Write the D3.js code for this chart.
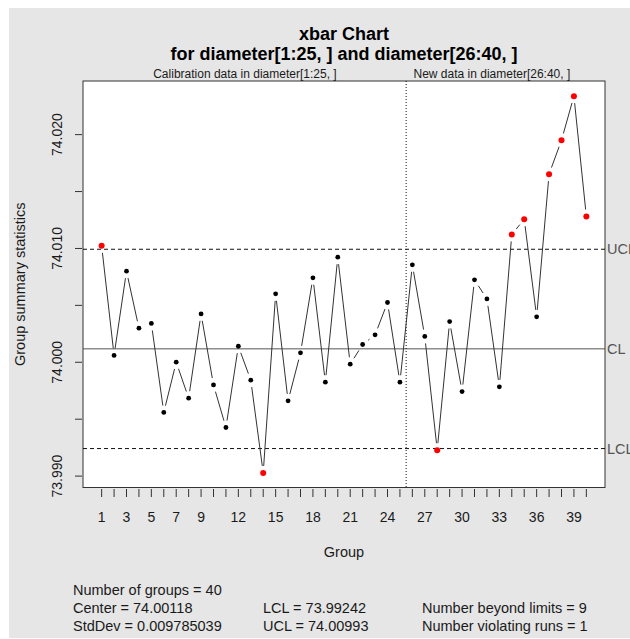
<!DOCTYPE html>
<head>
    <meta charset="utf-8">
    <script src="https://d3js.org/d3.v7.min.js"></script>
    <style>
        body { margin: 0; background: #fff; }
        text { font-family: "Liberation Sans", Arial, sans-serif; fill: #1a1a1a; }
        .tick-lab { font-size: 14px; }
        .lim-lab { font-size: 14.5px; fill: #555; }
        .stats { font-size: 14.5px; }
    </style>
</head>
<body>
    <div id="chart-container"></div>
</body>
<script>
    // group means (1:25 calibration, 26:40 new data)
    var groups = d3.range(1, 41)
    var means = [
        74.01023, 74.00060, 74.00800, 74.00300, 74.00341, 73.99559, 74.00001, 73.99685,
        74.00425, 73.99801, 73.99427, 74.00141, 73.99843, 73.99028, 74.00601, 73.99661,
        74.00083, 74.00742, 73.99825, 74.00923, 73.99983, 74.00156, 74.00241, 74.00525,
        73.99825, 74.00856, 74.00227, 73.99228, 74.00358, 73.99743, 74.00724, 74.00557,
        73.99784, 74.01123, 74.01257, 74.00399, 74.01653, 74.01951, 74.02338, 74.01281
    ]
    var center = 74.00118
    var lcl = 73.99242
    var ucl = 74.00993
    var calibEnd = 25

    var yTicks = [73.990, 73.995, 74.000, 74.005, 74.010, 74.015, 74.020]
    var yLabels = [73.990, 74.000, 74.010, 74.020]
    var xLabels = [1, 3, 5, 7, 9, 12, 15, 18, 21, 24, 27, 30, 33, 36, 39]

    var statsLines = [
        ["Number of groups = 40", "", ""],
        ["Center = 74.00118", "LCL = 73.99242", "Number beyond limits = 9"],
        ["StdDev = 0.009785039", "UCL = 74.00993", "Number violating runs = 1"]
    ]

    var W = 630, H = 639
    var box = {left: 83, top: 81, right: 605, bottom: 487.5}

    var svg = d3.select("#chart-container").append("svg")
        .attr("width", W)
        .attr("height", H)

    // grey device background
    svg.append("rect")
        .attr("x", 9).attr("y", 8)
        .attr("width", W - 9).attr("height", 630)
        .attr("fill", "#e6e6e6")

    var x = d3.scaleLinear()
        .domain([-0.5, 41.5])
        .range([box.left, box.right])

    var y = d3.scaleLinear()
        .domain([73.99 - (487.5 - 476.1) / 11382, 73.99 + (476.1 - 81) / 11382])
        .range([box.bottom, box.top])

    svg.append("rect")
        .attr("x", box.left).attr("y", box.top)
        .attr("width", box.right - box.left).attr("height", box.bottom - box.top)
        .attr("fill", "#fff")
        .attr("stroke", "#333")

    // titles
    svg.append("text")
        .attr("x", 344).attr("y", 40)
        .attr("text-anchor", "middle")
        .style("font-size", "18px").style("font-weight", "bold").style("fill", "#000")
        .text("xbar Chart")
    svg.append("text")
        .attr("x", 344).attr("y", 60)
        .attr("text-anchor", "middle")
        .style("font-size", "18px").style("font-weight", "bold").style("fill", "#000")
        .text("for diameter[1:25, ] and diameter[26:40, ]")

    svg.append("text")
        .attr("x", x(12.53)).attr("y", 77.5)
        .attr("text-anchor", "middle")
        .style("font-size", "12px")
        .text("Calibration data in diameter[1:25, ]")
    svg.append("text")
        .attr("x", x(32.4)).attr("y", 77.5)
        .attr("text-anchor", "middle")
        .style("font-size", "12px")
        .text("New data in diameter[26:40, ]")

    // y axis
    svg.selectAll(".ytick")
        .data(yTicks)
        .enter().append("line")
        .attr("class", "ytick")
        .attr("x1", 75).attr("x2", 82)
        .attr("y1", function(d){ return y(d) })
        .attr("y2", function(d){ return y(d) })
        .attr("stroke", "#333")

    svg.selectAll(".ylab")
        .data(yLabels)
        .enter().append("text")
        .attr("class", "tick-lab")
        .attr("text-anchor", "middle")
        .attr("transform", function(d){ return "translate(62," + y(d) + ") rotate(-90)" })
        .text(function(d){ return d3.format(".3f")(d) })

    svg.append("text")
        .attr("class", "stats")
        .attr("text-anchor", "middle")
        .attr("transform", "translate(25," + ((box.top + box.bottom) / 2) + ") rotate(-90)")
        .text("Group summary statistics")

    // x axis
    svg.selectAll(".xtick")
        .data(groups)
        .enter().append("line")
        .attr("class", "xtick")
        .attr("x1", function(d){ return x(d) })
        .attr("x2", function(d){ return x(d) })
        .attr("y1", 489).attr("y2", 497)
        .attr("stroke", "#333")

    svg.selectAll(".xlab")
        .data(xLabels)
        .enter().append("text")
        .attr("class", "tick-lab")
        .attr("text-anchor", "middle")
        .attr("x", function(d){ return x(d) })
        .attr("y", 522)
        .text(function(d){ return d })

    svg.append("text")
        .attr("class", "stats")
        .attr("text-anchor", "middle")
        .attr("x", (box.left + box.right) / 2).attr("y", 557)
        .text("Group")

    // control limits
    var limits = [
        {v: ucl, name: "UCL", dash: "4,3", col: "#111"},
        {v: center, name: "CL", dash: null, col: "#555"},
        {v: lcl, name: "LCL", dash: "4,3", col: "#111"}
    ]
    svg.selectAll(".lim")
        .data(limits)
        .enter().append("line")
        .attr("x1", box.left).attr("x2", box.right)
        .attr("y1", function(d){ return y(d.v) })
        .attr("y2", function(d){ return y(d.v) })
        .attr("stroke", function(d){ return d.col })
        .attr("stroke-dasharray", function(d){ return d.dash })
    svg.selectAll(".limlab")
        .data(limits)
        .enter().append("text")
        .attr("class", "lim-lab")
        .attr("x", 607)
        .attr("y", function(d){ return y(d.v) + 5 })
        .text(function(d){ return d.name })

    // calibration / new data separator
    svg.append("line")
        .attr("x1", x(calibEnd + 0.5)).attr("x2", x(calibEnd + 0.5))
        .attr("y1", box.top).attr("y2", box.bottom)
        .attr("stroke", "#111")
        .attr("stroke-dasharray", "1,2")

    // connecting segments with gaps round the points (R type = "b")
    var gap = 7
    var pts = means.map(function(v, i){ return [x(groups[i]), y(v)] })
    for (var i = 0; i < pts.length - 1; i++) {
        var a = pts[i], b = pts[i + 1]
        var dx = b[0] - a[0], dy = b[1] - a[1]
        var len = Math.sqrt(dx * dx + dy * dy)
        if (len <= 2 * gap) continue
        var ux = dx / len, uy = dy / len
        svg.append("line")
            .attr("x1", a[0] + ux * gap).attr("y1", a[1] + uy * gap)
            .attr("x2", b[0] - ux * gap).attr("y2", b[1] - uy * gap)
            .attr("stroke", "#333")
    }

    svg.selectAll(".pt")
        .data(means)
        .enter().append("circle")
        .attr("cx", function(d, i){ return x(groups[i]) })
        .attr("cy", function(d){ return y(d) })
        .attr("r", function(d){ return (d > ucl || d < lcl) ? 3 : 2.4 })
        .attr("fill", function(d){ return (d > ucl || d < lcl) ? "#f00" : "#000" })

    // summary stats below the chart
    var cols = [73, 263, 422]
    var rows = [595, 612.5, 631]
    statsLines.forEach(function(row, r){
        row.forEach(function(s, c){
            if (!s) return
            svg.append("text")
                .attr("class", "stats")
                .attr("x", cols[c]).attr("y", rows[r])
                .text(s)
        })
    })
</script>
